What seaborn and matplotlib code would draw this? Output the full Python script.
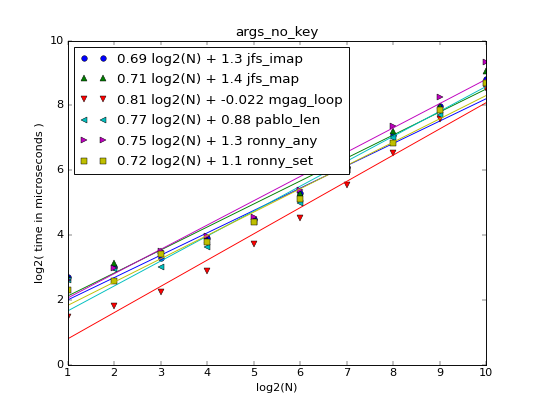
import numpy as np
import pandas as pd
import seaborn as sns
import matplotlib
matplotlib.use("Agg")
import matplotlib.pyplot as plt

# log2(N) on x, log2(time in microseconds) on y
log_n = [1, 2, 3, 4, 5, 6, 7, 8, 9, 10]

jfs_imap = [2.7, 3.0, 3.3, 3.9, 4.5, 5.3, 6.1, 7.07, 7.97, 8.82]
jfs_map = [2.7, 3.12, 3.5, 3.85, 4.5, 5.3, 6.2, 7.2, 7.97, 9.05]
mgag_loop = [1.46, 1.8, 2.23, 2.9, 3.72, 4.53, 5.55, 6.53, 7.58, 8.54]
pablo_len = [2.6, 2.95, 3.0, 3.62, 4.4, 5.0, 6.0, 7.0, 7.7, 8.7]
ronny_any = [2.6, 2.98, 3.5, 3.96, 4.56, 5.4, 6.3, 7.35, 8.26, 9.34]
ronny_set = [2.29, 2.59, 3.4, 3.77, 4.4, 5.1, 6.0, 6.84, 7.84, 8.69]

names = ["jfs_imap", "jfs_map", "mgag_loop", "pablo_len", "ronny_any", "ronny_set"]
slopes = [0.69, 0.71, 0.81, 0.77, 0.75, 0.72]
intercepts = [1.3, 1.4, -0.022, 0.88, 1.3, 1.1]

sns.set_style("ticks")
plt.style.use("classic")

colors = ["b", "g", "r", "c", "m", "y"]
markers = ["o", "^", "v", "<", ">", "s"]
series = [jfs_imap, jfs_map, mgag_loop, pablo_len, ronny_any, ronny_set]

fig, ax = plt.subplots(figsize=(8, 6), dpi=67.5)

for name, ys, a, b, c, m in zip(names, series, slopes, intercepts, colors, markers):
    df = pd.DataFrame({"x": log_n, "y": ys})
    label = f"{a} log2(N) + {b} {name}"
    sns.lineplot(data=df, x="x", y="y", ax=ax, color=c, marker=m,
                 linestyle="none", markersize=6, markeredgecolor="k",
                 markeredgewidth=0.5, errorbar=None, label=label)
    # fitted line from the legend coefficients
    fit = pd.DataFrame({"x": log_n, "y": [a * x + b for x in log_n]})
    sns.lineplot(data=fit, x="x", y="y", ax=ax, color=c, linewidth=1,
                 errorbar=None, legend=False)

ax.set_xlim(1, 10)
ax.set_ylim(0, 10)
ax.set_xticks(range(1, 11))
ax.set_yticks(range(0, 11, 2))
ax.set_title("args_no_key")
ax.set_xlabel("log2(N)")
ax.set_ylabel("log2( time in microseconds )")
ax.legend(loc="upper left", numpoints=2, labelspacing=0.56)

fig.savefig("out.png", dpi=67.5)
